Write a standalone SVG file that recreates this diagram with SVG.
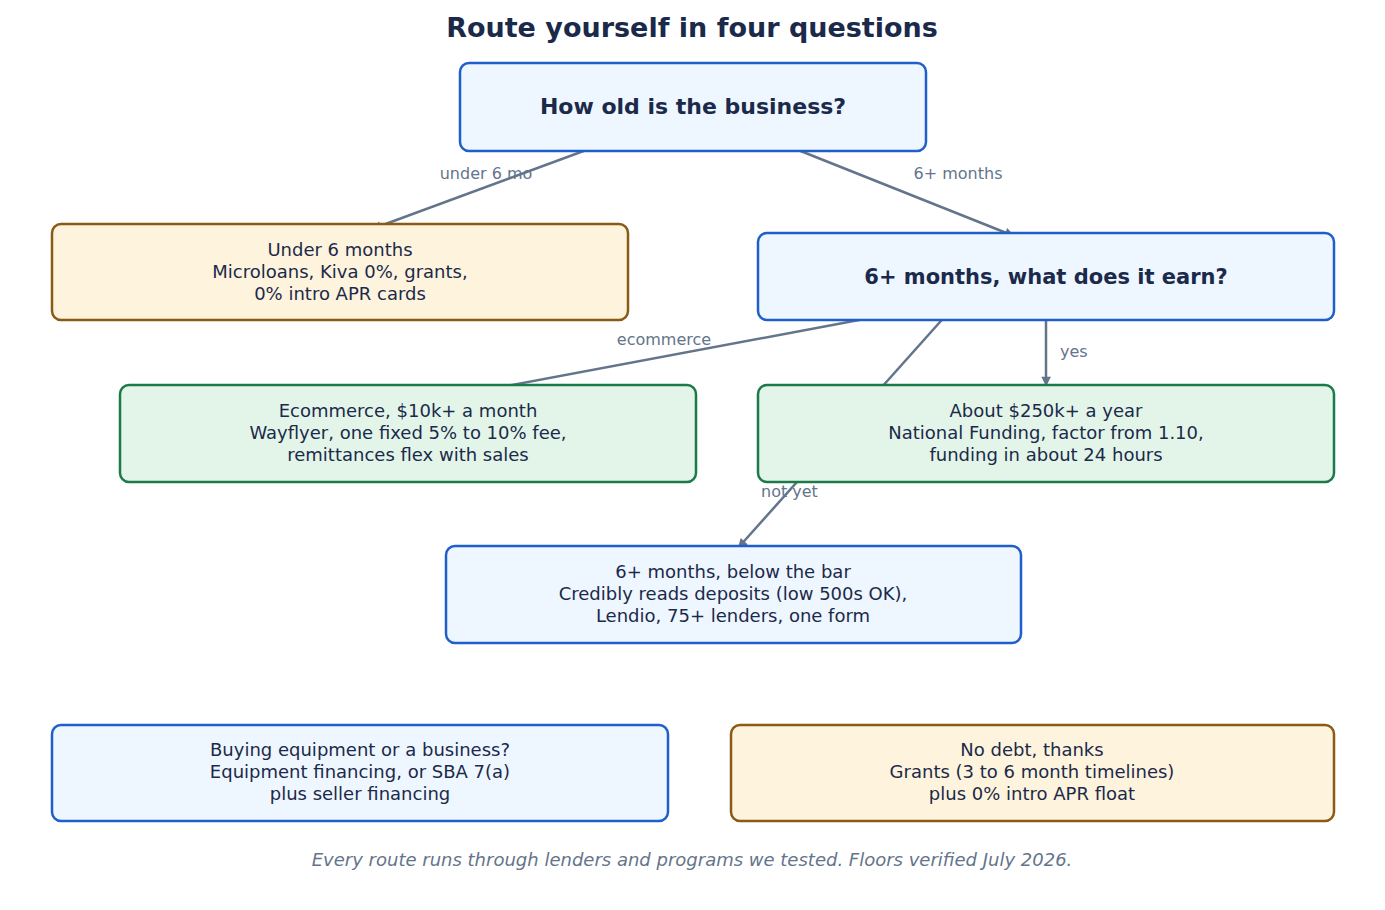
<svg xmlns="http://www.w3.org/2000/svg" width="1385" height="910" viewBox="0 0 1385 910">
<style>
text{font-family:"DejaVu Sans",sans-serif;fill:#1b2a4a}
.b{fill:#eef6ff;stroke:#1f5fcc;stroke-width:2.5}
.o{fill:#fef3dc;stroke:#8b5a14;stroke-width:2.5}
.g{fill:#e3f5e9;stroke:#1a7a4a;stroke-width:2.5}
.t{font-size:18px;text-anchor:middle}
.h{font-size:21px;font-weight:bold;text-anchor:middle}
.l{font-size:16px;fill:#64748b}
.e{stroke:#64748b;stroke-width:2.5;fill:none;marker-end:url(#a)}
</style>
<defs><marker id="a" viewBox="0 0 10 10" refX="9" refY="5" markerWidth="6" markerHeight="6" orient="auto" markerUnits="userSpaceOnUse" style="overflow:visible"><path d="M0,0L10,5L0,10z" fill="#64748b" transform="scale(1.6) translate(-4,-2)"/></marker></defs>
<rect width="1385" height="910" fill="#fff"/>
<text x="692" y="37" style="font-size:27px;font-weight:bold;text-anchor:middle">Route yourself in four questions</text>
<g id="connectors">
<line class="e" x1="608" y1="142" x2="372" y2="229"/>
<line class="e" x1="778" y1="142" x2="1014" y2="236"/>
<line class="e" x1="907" y1="311" x2="480" y2="391"/>
<line class="e" x1="1046" y1="314" x2="1046" y2="386"/>
<line class="e" x1="948" y1="313" x2="738" y2="548"/>
<text class="l" x="486" y="179" text-anchor="middle">under 6 mo</text>
<text class="l" x="958" y="179" text-anchor="middle">6+ months</text>
<text class="l" x="664" y="345" text-anchor="middle">ecommerce</text>
<text class="l" x="1060" y="357">yes</text>
<text class="l" x="761" y="497">not yet</text>
</g>
<g id="n1"><rect class="b" x="460" y="63" width="466" height="88" rx="9"/><text class="h" x="693" y="114" style="font-size:22px">How old is the business?</text></g>
<g id="n2"><rect class="o" x="52" y="224" width="576" height="96" rx="9"/><text class="t" x="340" y="256">Under 6 months</text><text class="t" x="340" y="278">Microloans, Kiva 0%, grants,</text><text class="t" x="340" y="300">0% intro APR cards</text></g>
<g id="n3"><rect class="b" x="758" y="233" width="576" height="87" rx="9"/><text class="h" x="1046" y="284">6+ months, what does it earn?</text></g>
<g id="n4"><rect class="g" x="120" y="385" width="576" height="97" rx="9"/><text class="t" x="408" y="417">Ecommerce, $10k+ a month</text><text class="t" x="408" y="439">Wayflyer, one fixed 5% to 10% fee,</text><text class="t" x="408" y="461">remittances flex with sales</text></g>
<g id="n5"><rect class="g" x="758" y="385" width="576" height="97" rx="9"/><text class="t" x="1046" y="417">About $250k+ a year</text><text class="t" x="1046" y="439">National Funding, factor from 1.10,</text><text class="t" x="1046" y="461">funding in about 24 hours</text></g>
<g id="n6"><rect class="b" x="446" y="546" width="575" height="97" rx="9"/><text class="t" x="733" y="578">6+ months, below the bar</text><text class="t" x="733" y="600">Credibly reads deposits (low 500s OK),</text><text class="t" x="733" y="622">Lendio, 75+ lenders, one form</text></g>
<g id="n7"><rect class="b" x="52" y="725" width="616" height="96" rx="9"/><text class="t" x="360" y="756">Buying equipment or a business?</text><text class="t" x="360" y="778">Equipment financing, or SBA 7(a)</text><text class="t" x="360" y="800">plus seller financing</text></g>
<g id="n8"><rect class="o" x="731" y="725" width="603" height="96" rx="9"/><text class="t" x="1032" y="756">No debt, thanks</text><text class="t" x="1032" y="778">Grants (3 to 6 month timelines)</text><text class="t" x="1032" y="800">plus 0% intro APR float</text></g>
<text x="692" y="866" style="font-size:18px;font-style:italic;fill:#64748b;text-anchor:middle">Every route runs through lenders and programs we tested. Floors verified July 2026.</text>
</svg>
